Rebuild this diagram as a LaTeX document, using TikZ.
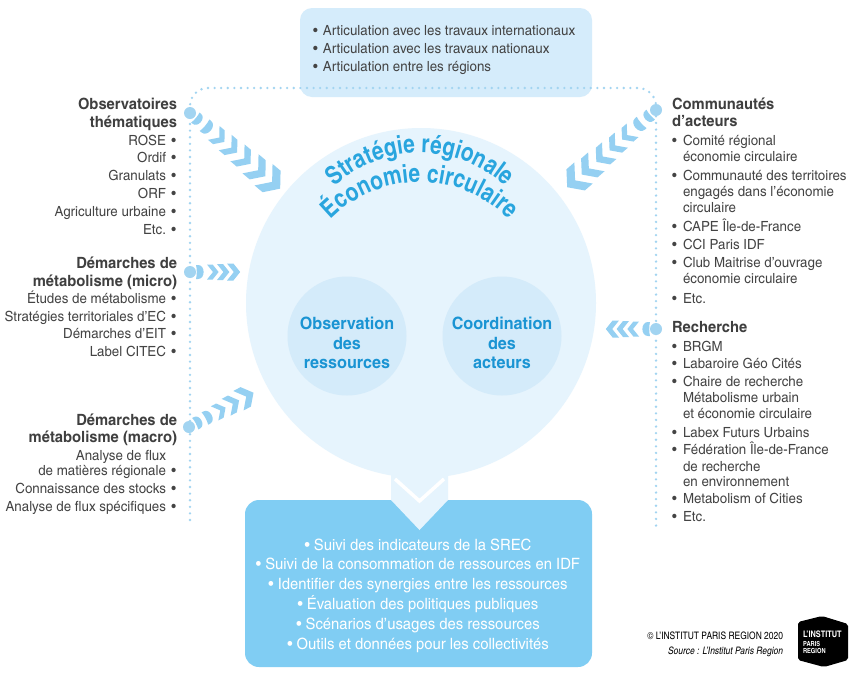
\documentclass[tikz,border=0pt]{standalone}
\usepackage{fontspec}
\setmainfont{texgyreheroscn}[Extension=.otf,UprightFont=*-regular,BoldFont=*-bold,ItalicFont=*-italic,BoldItalicFont=*-bolditalic,FakeStretch=1.16]
\newfontfamily\cnfont{texgyreheroscn}[Extension=.otf,UprightFont=*-regular,BoldFont=*-bold,ItalicFont=*-italic,BoldItalicFont=*-bolditalic]
\usetikzlibrary{calc,decorations.text}
\definecolor{circc}{HTML}{E6F4FD}
\definecolor{innerc}{HTML}{D4EBFA}
\definecolor{topc}{HTML}{D5ECFB}
\definecolor{botc}{HTML}{80CDF3}
\definecolor{chevc}{HTML}{95D0F2}
\definecolor{dotc}{HTML}{A2D4F1}
\definecolor{titlec}{HTML}{29A5DE}
\definecolor{innertc}{HTML}{1A94D3}
\definecolor{grayc}{HTML}{444444}
\definecolor{hdrc}{HTML}{3F3F3F}
\begin{document}
\begin{tikzpicture}[x=1pt,y=-1pt,
  every node/.style={inner sep=0pt, outer sep=0pt},
  item/.style={font=\fontsize{14}{14}\selectfont, text=grayc, text height=9pt, text depth=0pt},
  hdr/.style={font=\bfseries\fontsize{15.5}{15.5}\selectfont, text=hdrc, text height=10pt, text depth=0pt},
  btxt/.style={font=\fontsize{15.6}{15.6}\selectfont, text=white, text height=10pt, text depth=0pt},
  innert/.style={align=center, font=\bfseries\fontsize{17}{19.5}\selectfont, text=innertc},
  bigdot/.style={circle, fill=dotc, minimum size=12pt},
  dotline/.style={draw=dotc, line width=2.6pt, line cap=round, dash pattern=on 0pt off 6.6pt},
  chev/.pic={\fill[chevc] (0,1) -- (0.75,1) -- (1.55,0) -- (0.75,-1) -- (0,-1) -- (0.8,0) -- cycle;},
  dsh/.pic={\fill[chevc] (0,1) -- (0.3,1) .. controls (1.35,1) and (1.35,-1) .. (0.3,-1) -- (0,-1) .. controls (0.15,-0.5) and (0.15,0.5) .. (0,1) -- cycle;},
]
\useasboundingbox (0,0) rectangle (850,673);
\fill[white] (0,0) rectangle (850,673);
% top box
\node[fill=topc, rounded corners=12pt, minimum width=292pt, minimum height=89pt] (tb) at (446,52.5) {};
% dotted frame
\coordinate (lbot) at (190,520);
\coordinate (lcor) at (190,88);
\coordinate (rcor) at (656,88);
\coordinate (rbot) at (656,526);
\draw[dotline, rounded corners=18pt] (lbot) -- (lcor) -- (rcor) -- (rbot);
% main circle
\node[circle, fill=circc, minimum size=350pt] (main) at (421,303) {};
% bottom box
\node[fill=botc, rounded corners=14pt, minimum width=347pt, minimum height=167pt] (bb) at (418.5,583.5) {};
% pointer
\fill[circc] (391,470) -- (448,470) -- (448,500) -- (419.5,530) -- (391,500) -- cycle;
\draw[white, line width=3.5pt] (395,479) -- (419.5,501) -- (444,479);
% inner circles
\node[circle, fill=innerc, minimum size=119pt] (obs) at (347,336) {};
\node[circle, fill=innerc, minimum size=119pt] (coo) at (502,336) {};
\node[innert] (obst) at (347,343) {Observation\\des\\ressources};
\node[innert] (coot) at (502,343) {Coordination\\des\\acteurs};
% title
\path[decorate, decoration={text along path, text={|\cnfont\bfseries\fontsize{25.5}{25.5}\selectfont|Stratégie régionale}, text align=center, text color=titlec}] (301.6,235.9) arc[start angle=160, end angle=20, radius=126pt];
\path[decorate, decoration={text along path, text={|\cnfont\bfseries\fontsize{25.5}{25.5}\selectfont|Économie circulaire}, text align=center, text color=titlec}] (302.5,264.25) arc[start angle=160, end angle=20, radius=125pt];
% top box text
\foreach \txt/\y [count=\i] in {Articulation avec les travaux internationaux/31, Articulation avec les travaux nationaux/49, Articulation entre les régions/67}
  \node[item, anchor=west] (ta\i) at (313,\y) {\makebox[10pt][l]{•}\txt};
% left column
\node[hdr, anchor=east] (h1a) at (177,104) {Observatoires};
\node[hdr, anchor=east] (h1b) at (177,122) {thématiques};
\foreach \txt/\y [count=\i] in {ROSE/141, Ordif/158, Granulats/176, ORF/194, Agriculture urbaine/212, Etc./230}
  \node[item, anchor=east] (oa\i) at (176,\y) {\txt\makebox[10pt][r]{•}};
\node[hdr, anchor=east] (h2a) at (177,263) {Démarches de};
\node[hdr, anchor=east] (h2b) at (177,281) {métabolisme (micro)};
\foreach \txt/\y [count=\i] in {Études de métabolisme/299, Stratégies territoriales d’EC/317, Démarches d’EIT/334, Label CITEC/352}
  \node[item, anchor=east] (mi\i) at (176,\y) {\txt\makebox[10pt][r]{•}};
\node[hdr, anchor=east] (h3a) at (177,420) {Démarches de};
\node[hdr, anchor=east] (h3b) at (177,437) {métabolisme (macro)};
\foreach \txt/\y/\flag [count=\i] in {Analyse de flux/456/0, de matières régionale/471/1, Connaissance des stocks/489/1, Analyse de flux spécifiques/507/1}
  \node[item, anchor=east] (ma\i) at (176,\y) {\txt\ifnum\flag=1 \makebox[10pt][r]{•}\else\hspace*{10pt}\fi};
% right column
\node[hdr, anchor=west] (c1) at (672,104) {Communautés};
\node[hdr, anchor=west] (c2) at (672,121) {d’acteurs};
\foreach \txt/\y/\flag [count=\i] in {Comité régional/141/1, économie circulaire/157/0, Communauté des territoires/176/1, engagés dans l’économie/192/0, circulaire/208/0, CAPE Île-de-France/227/1, CCI Paris IDF/245/1, Club Maitrise d’ouvrage/263/1, économie circulaire/279/0, Etc./299/1}
  \node[item, anchor=west] (ca\i) at (672,\y) {\ifnum\flag=1 \makebox[11pt][l]{•}\else\hspace*{11pt}\fi\txt};
\node[hdr, anchor=west] (rh) at (672,327) {Recherche};
\foreach \txt/\y/\flag [count=\i] in {BRGM/347/1, Labaroire Géo Cités/364/1, Chaire de recherche/382/1, Métabolisme urbain/398/0, et économie circulaire/414/0, Labex Futurs Urbains/433/1, Fédération Île-de-France/450/1, de recherche/467/0, en environnement/482/0, Metabolism of Cities/499/1, Etc./517/1}
  \node[item, anchor=west] (re\i) at (672,\y) {\ifnum\flag=1 \makebox[11pt][l]{•}\else\hspace*{11pt}\fi\txt};
% bottom box text
\foreach \txt [count=\i] in {Suivi des indicateurs de la SREC, Suivi de la consommation de ressources en IDF, Identifier des synergies entre les ressources, Évaluation des politiques publiques, Scénarios d’usages des ressources, Outils et données pour les collectivités}
  \node[btxt] (bt\i) at (418,{545+19.8*(\i-1)}) {•~\txt};
% junction dots and chevrons
\node[bigdot] (L1) at (190,113) {};
\foreach \d/\h in {7/6.5, 19/7.5} \pic[rotate=-40, scale=\h] at ($(L1)+(-40:\d pt)$) {dsh};
\foreach \d/\h in {31/9, 46/10, 62/11, 79/12.5, 96/14} \pic[rotate=-40, scale=\h] at ($(L1)+(-40:\d pt)$) {chev};
\node[bigdot] (L2) at (190,272) {};
\foreach \d/\h in {6/7} \pic[rotate=0, scale=\h] at ($(L2)+(0:\d pt)$) {dsh};
\foreach \d/\h in {17/7.5, 27/8, 37/8.5} \pic[rotate=0, scale=\h] at ($(L2)+(0:\d pt)$) {chev};
\node[bigdot] (L3) at (189,427) {};
\foreach \d/\h in {7/6.5, 18/7} \pic[rotate=28, scale=\h] at ($(L3)+(28:\d pt)$) {dsh};
\foreach \d/\h in {29/8, 42/9.5, 56/11} \pic[rotate=28, scale=\h] at ($(L3)+(28:\d pt)$) {chev};
\node[bigdot] (R1) at (656,110) {};
\foreach \d/\h in {7/6.5, 19/7.5} \pic[rotate=221, scale=\h] at ($(R1)+(221:\d pt)$) {dsh};
\foreach \d/\h in {31/9, 46/10, 62/11, 79/12.5, 96/14} \pic[rotate=221, scale=\h] at ($(R1)+(221:\d pt)$) {chev};
\node[bigdot] (R2) at (656,329) {};
\foreach \d/\h in {6/7} \pic[rotate=180, scale=\h] at ($(R2)+(180:\d pt)$) {dsh};
\foreach \d/\h in {17/7.5, 27/8, 37/8.5} \pic[rotate=180, scale=\h] at ($(R2)+(180:\d pt)$) {chev};
% credits
\node[anchor=east, font=\cnfont\fontsize{10.3}{10.3}\selectfont] (cp) at (783,636) {© L’INSTITUT PARIS REGION 2020};
\node[anchor=east, font=\cnfont\itshape\fontsize{10.3}{10.3}\selectfont] (src) at (783,652) {Source : L’Institut Paris Region};
\fill[black, rounded corners=2pt] (798,622) -- (822,616) -- (848,624) -- (848,660) -- (824,667) -- (798,660) -- cycle;
\node[anchor=west, font=\cnfont\bfseries\fontsize{9}{9}\selectfont, text=white] (lg1) at (803,634) {L’INSTITUT};
\node[anchor=west, font=\cnfont\bfseries\fontsize{7}{7}\selectfont, text=white] (lg2) at (803,644) {PARIS};
\node[anchor=west, font=\cnfont\bfseries\fontsize{7}{7}\selectfont, text=white] (lg3) at (803,651) {REGION};
\end{tikzpicture}
\end{document}
